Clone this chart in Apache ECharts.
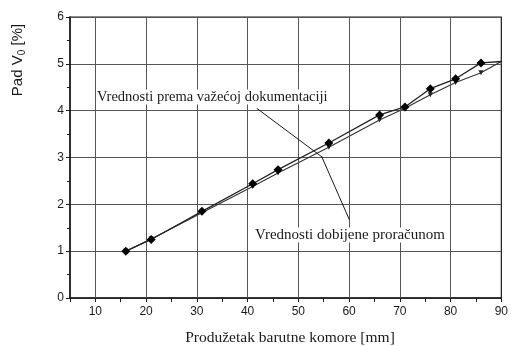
<!DOCTYPE html>
<html>
<head>
<meta charset="utf-8">
<script src="https://cdn.jsdelivr.net/npm/echarts@6/dist/echarts.min.js"></script>
<style>
  html, body { margin: 0; padding: 0; background: #fff; }
  #chart { width: 511px; height: 346px; }
</style>
</head>
<body>
<div id="chart"></div>
<script>
// Chamber extension (mm)
const extension = [16, 21, 31, 41, 46, 56, 66, 71, 76, 81, 86];
// Velocity drop from the valid documentation (diamonds)
const dropDocumented = [1.00, 1.25, 1.85, 2.44, 2.74, 3.31, 3.91, 4.08, 4.47, 4.68, 5.02];
// Velocity drop obtained by calculation
const dropCalculated = [1.00, 1.26, 1.82, 2.38, 2.67, 3.22, 3.80, 4.05, 4.34, 4.60, 4.81];
// Both curves run on to the frame edge
const endPoint = [90, 5.05];

const xLabelTicks = [10, 20, 30, 40, 50, 60, 70, 80, 90];
const xMinorTicks = [5, 10, 15, 20, 25, 30, 35, 40, 45, 50, 55, 60, 65, 70, 75, 80, 85, 90];

const labelUpper = 'Vrednosti prema važećoj dokumentaciji';
const labelLower = 'Vrednosti dobijene proračunom';
const xTitle = 'Produžetak barutne komore [mm]';

const ink = '#1a1a1a';
const gridInk = '#555';

const documentedData = extension.map((x, i) => [x, dropDocumented[i]]);
documentedData.push({ value: endPoint, symbol: 'none' });
const calculatedData = extension.map((x, i) => [x, dropCalculated[i]]);
calculatedData.push({ value: endPoint, symbol: 'none' });

const chart = echarts.init(document.getElementById('chart'), null, { renderer: 'canvas' });
chart.setOption({
  animation: false,
  grid: { left: 70, right: 7, top: 17, bottom: 48, show: true, borderColor: ink, borderWidth: 1.2 },
  xAxis: {
    type: 'value', min: 5, max: 90,
    axisLine: { show: true, onZero: false, lineStyle: { color: ink, width: 1.5 } },
    axisTick: { show: true, customValues: xMinorTicks, length: 4, lineStyle: { color: ink } },
    axisLabel: { customValues: xLabelTicks, color: ink, fontFamily: 'Liberation Sans', fontSize: 12, margin: 8 },
    splitLine: { show: false }
  },
  yAxis: {
    type: 'value', min: 0, max: 6, interval: 1,
    axisLine: { show: true, lineStyle: { color: ink, width: 1.5 } },
    axisTick: { show: true, length: 4, lineStyle: { color: ink } },
    minorTick: { show: true, splitNumber: 2, length: 3, lineStyle: { color: ink } },
    axisLabel: { color: ink, fontFamily: 'Liberation Sans', fontSize: 12, margin: 6 },
    splitLine: { show: true, lineStyle: { color: gridInk, width: 1 } }
  },
  graphic: [
    {
      type: 'text', x: 18, y: 60, rotation: Math.PI / 2,
      style: {
        text: 'Pad V{s|0} [%]', textAlign: 'center', textVerticalAlign: 'middle',
        font: '15px "Liberation Sans"', fill: ink,
        rich: { s: { fontSize: 10, fontFamily: 'Liberation Sans', padding: [8, 0, 0, 0] } }
      }
    },
    {
      type: 'text', x: 290, y: 338,
      style: { text: xTitle, textAlign: 'center', textVerticalAlign: 'middle', font: '15.5px "Liberation Serif"', fill: ink }
    },
    {
      type: 'text', x: 97, y: 97, z: 10,
      style: { text: labelUpper, textAlign: 'left', textVerticalAlign: 'middle', font: '14.5px "Liberation Serif"', fill: ink, backgroundColor: '#fff' }
    },
    {
      type: 'text', x: 255, y: 235, z: 10,
      style: { text: labelLower, textAlign: 'left', textVerticalAlign: 'middle', font: '15px "Liberation Serif"', fill: ink, backgroundColor: '#fff' }
    }
  ],
  series: [
    {
      // vertical grid lines at the labelled x ticks
      type: 'line', data: [], silent: true,
      markLine: {
        silent: true, symbol: 'none', label: { show: false },
        lineStyle: { color: gridInk, width: 1, type: 'solid' },
        data: xLabelTicks.slice(0, -1).map(v => ({ xAxis: v }))
      }
    },
    {
      name: labelUpper, type: 'line', data: documentedData,
      symbol: 'diamond', symbolSize: 9,
      itemStyle: { color: '#000' },
      lineStyle: { color: '#222', width: 1.3 }, z: 5
    },
    {
      name: labelLower, type: 'line', data: calculatedData,
      symbol: 'triangle', symbolRotate: 180, symbolSize: 5,
      itemStyle: { color: '#222' },
      lineStyle: { color: '#333', width: 1.1 }, z: 4,
      markLine: {
        silent: true, symbol: 'none', label: { show: false },
        lineStyle: { color: ink, width: 1, type: 'solid' },
        data: [
          [{ coord: [41.8, 4.05] }, { coord: [54.8, 3.0] }],
          [{ coord: [60.1, 1.66] }, { coord: [54.6, 3.02] }]
        ]
      }
    }
  ]
});
</script>
</body>
</html>
